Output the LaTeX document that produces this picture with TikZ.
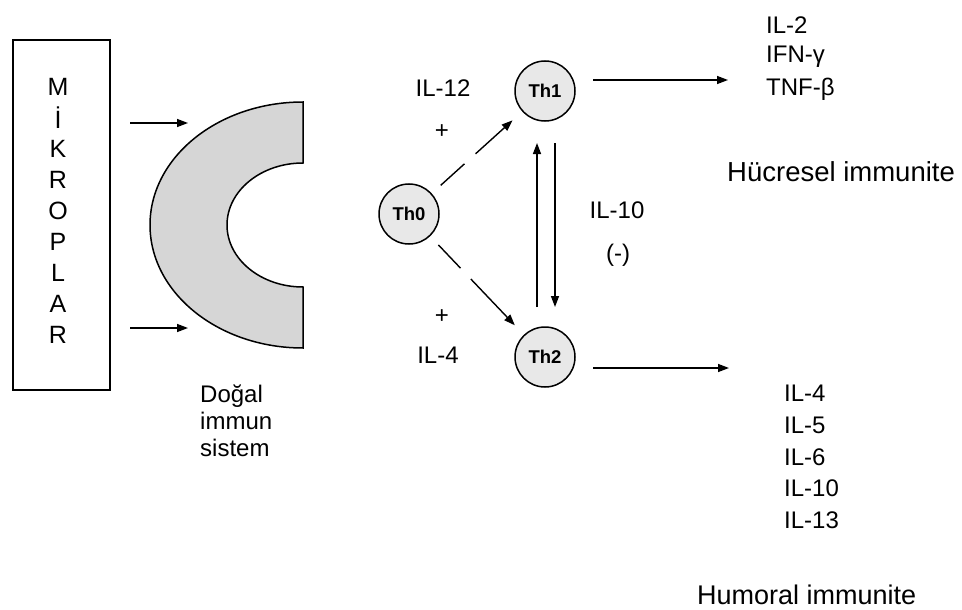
\documentclass[tikz,border=0pt]{standalone}
\usepackage{fontspec}
\setmainfont{Liberation Sans}
\usetikzlibrary{arrows.meta}
\tikzset{
  lbl/.style={font=\fontsize{24}{26}\selectfont, inner sep=0pt},
  cell/.style={circle, draw, line width=1.5pt, fill=gray!18, minimum size=60pt, inner sep=0pt, font=\fontsize{18.5}{19}\selectfont\bfseries},
  arr/.style={line width=1.4pt, -{Triangle[length=11pt,width=8pt]}},
  dasharr/.style={arr, dash pattern=on 32pt off 15pt on 80pt}
}
\begin{document}
\begin{tikzpicture}[x=1pt,y=-1pt]
\useasboundingbox (0,0) rectangle (962,610);
% Mikroplar box
\node[draw, line width=1.5pt, minimum width=97pt, minimum height=350pt, inner sep=0pt] (box) at (61.5,215) {};
\foreach \l [count=\i from 0] in {M,İ,K,R,O,P,L,A,R}
  \node[lbl, font=\fontsize{25}{26}\selectfont] (m\i) at (58,{87+31*\i}) {\l};
% C shape
\filldraw[line width=1.5pt, fill=gray!32] (303,102) arc[start angle=270, end angle=90, x radius=153, y radius=123]
  -- (303,287) arc[start angle=90, end angle=270, x radius=76, y radius=62] -- cycle;
\coordinate (a1s) at (130,123); \coordinate (a1e) at (188,123);
\coordinate (a2s) at (130,328); \coordinate (a2e) at (188,328);
\draw[arr] (a1s) -- (a1e);
\draw[arr] (a2s) -- (a2e);
\node[lbl, anchor=west, align=left] (dogal) at (200,421) {Doğal\\[1pt]immun\\[1pt]sistem};
% cells
\node[cell] (th0) at (409,214) {Th0};
\node[cell] (th1) at (545,91) {Th1};
\node[cell] (th2) at (545,357) {Th2};
\draw[dasharr, shorten <=12pt, shorten >=13pt] (th0) -- (th1);
\draw[dasharr, shorten <=12pt, shorten >=13pt] (th0) -- (th2);
\coordinate (u1) at (537,307); \coordinate (u2) at (537,143);
\coordinate (d1) at (555,143); \coordinate (d2) at (555,307);
\draw[arr] (u1) -- (u2);
\draw[arr] (d1) -- (d2);
% labels
\node[lbl] (il12) at (443,88) {IL-12};
\node[lbl] (p1) at (442,132) {+};
\node[lbl] (p2) at (442,317) {+};
\node[lbl] (il4) at (438,355) {IL-4};
\node[lbl] (il10) at (617,210) {IL-10};
\node[lbl] (neg) at (618,255) {(-)};
% outputs
\coordinate (o1s) at (593,80); \coordinate (o1e) at (728,80);
\coordinate (o2s) at (593,368); \coordinate (o2e) at (729,368);
\draw[arr] (o1s) -- (o1e);
\draw[arr] (o2s) -- (o2e);
\node[lbl, anchor=west] (il2) at (766,25) {IL-2};
\node[lbl, anchor=west] (ifn) at (766,57) {IFN-γ};
\node[lbl, anchor=west] (tnf) at (766,89) {TNF-β};
\node[lbl, anchor=west, font=\fontsize{27.5}{29}\selectfont] (huc) at (727,172) {Hücresel immunite};
\node[lbl, anchor=west] (b4) at (784,393) {IL-4};
\node[lbl, anchor=west] (b5) at (784,425) {IL-5};
\node[lbl, anchor=west] (b6) at (784,457) {IL-6};
\node[lbl, anchor=west] (b10) at (784,488) {IL-10};
\node[lbl, anchor=west] (b13) at (784,520) {IL-13};
\node[lbl, anchor=west, font=\fontsize{27}{29}\selectfont] (hum) at (697,595) {Humoral immunite};
\end{tikzpicture}
\end{document}
